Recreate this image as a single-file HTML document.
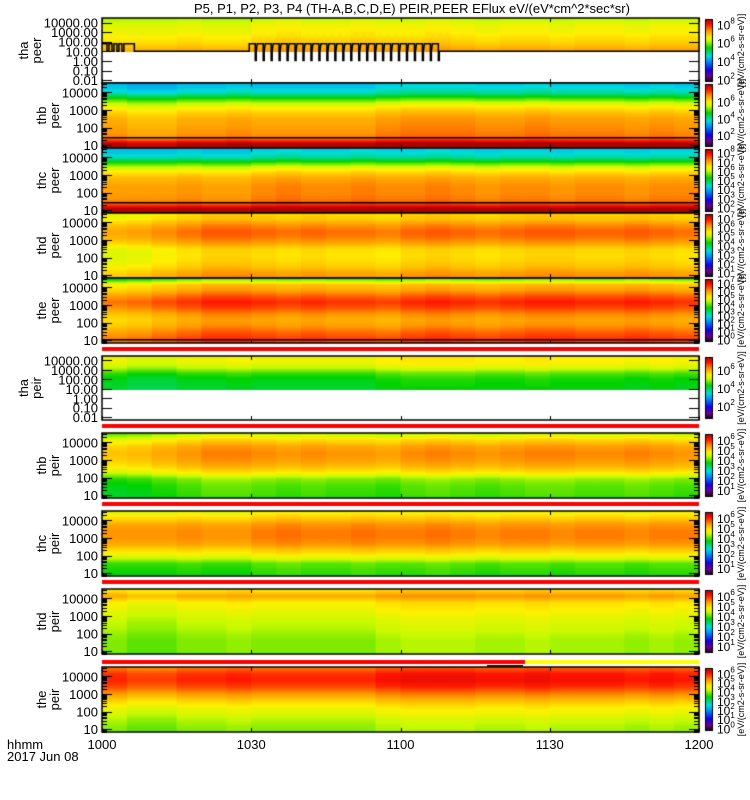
<!DOCTYPE html>
<html><head><meta charset="utf-8">
<style>
html,body{margin:0;padding:0;background:#fff;}
#wrap{position:relative;width:750px;height:800px;overflow:hidden;}
canvas,svg{position:absolute;left:0;top:0;}
text{font-family:"Liberation Sans",sans-serif;fill:#000;}
</style></head>
<body>
<div id="wrap">
<canvas id="cv" width="750" height="800"></canvas>
<svg id="sv" width="750" height="800"></svg>
</div>
<script>
// time axis data
const timeTicks = [1000, 1030, 1100, 1130, 1200];
const timeTickLabels = ["1000", "1030", "1100", "1130", "1200"];
// time-segment modulation (24 segments from 1000 to 1200)
const timeModA = [0,0,0,0.01,0,0,0.02,0.03,0.02,0.02,0.03,0.02,0.02,0.03,0.02,0.01,0.02,0.02,0.01,0.02,0.02,0.01,0.02,0.02];
const timeModB = [0,-0.02,-0.02,0,0,0.01,0,0,0,0,0,0.02,0.03,0.03,0.03,0.02,0.02,0.03,0.02,0.02,0.02,0.01,0.02,0.01];
const timeModC = [-0.03,-0.02,0,0.02,0.04,0.04,0.03,0.02,0.03,0.02,0.02,0.01,0.03,0.04,0.03,0.02,0.03,0.04,0.04,0.03,0.03,0.04,0.03,0.02];
// energy band colour levels per panel (top=high energy -> bottom), 0..1 colour index
const bandsP1 = [0.64,0.67,0.69,0.70,0.72,0.74,0.77,0.80];
const bandsP2 = [0.38,0.40,0.45,0.56,0.66,0.72,0.76,0.79,0.80,0.81,0.82,0.84,0.99,1.0];
const bandsP3 = [0.38,0.40,0.46,0.58,0.68,0.74,0.78,0.80,0.81,0.81,0.82,0.85,0.99,1.0];
const bandsP4 = [0.72,0.74,0.80,0.83,0.82,0.78,0.72,0.71,0.72,0.74,0.78,0.80];
const bandsP5 = [0.55,0.74,0.78,0.84,0.88,0.85,0.80,0.77,0.79,0.83,0.86,0.87];
const bandsP6 = [0.70,0.70,0.66,0.58,0.54,0.53,0.52];
const bandsP7 = [0.62,0.72,0.78,0.80,0.79,0.76,0.70,0.60,0.57,0.56,0.55];
const bandsP8 = [0.68,0.74,0.80,0.82,0.82,0.80,0.74,0.68,0.58,0.56,0.55];
const bandsP9 = [0.72,0.80,0.72,0.70,0.68,0.66,0.65,0.63,0.62,0.62,0.62];
const bandsP10 = [0.84,0.90,0.91,0.88,0.82,0.76,0.71,0.68,0.65,0.63,0.62];
// black trace (P1) pulse times, minutes after 1000
const pulseTimes = [29.6,31.2,32.8,34.4,36,37.6,39.2,40.8,42.4,44,45.6,47.2,48.8,50.4,52,53.6,55.2,56.8,58.4,60,61.6,63.2,64.8,66.4];

const panels = [
 {name:'tha',kind:'peer',top:18,bot:83,log:true,lmin:-2.3,lmax:4.47,dmin:0.95,bands:bandsP1,mod:timeModA,cb:[8,6,4,2],cbmin:1.7,cbmax:8.6},
 {name:'thb',kind:'peer',top:83,bot:148,lmin:0.83,lmax:4.54,bands:bandsP2,mod:timeModB,cb:[6,4,2],cbmin:0.6,cbmax:8.1,line:0.83+10/17.5},
 {name:'thc',kind:'peer',top:148,bot:213,lmin:0.83,lmax:4.54,bands:bandsP3,mod:timeModA,cb:[8,7,6,5,4,3,2],cbmin:1.5,cbmax:8.4,line:0.83+10/17.5},
 {name:'thd',kind:'peer',top:213,bot:278,lmin:0.83,lmax:4.54,bands:bandsP4,mod:timeModC,cb:[7,6,5,4,3,2,1],cbmin:0.5,cbmax:7.5},
 {name:'the',kind:'peer',top:278,bot:343,lmin:0.83,lmax:4.54,bands:bandsP5,mod:timeModC,cb:[7,6,5,4,3,2,1,0],cbmin:-0.3,cbmax:7.5,line:0.83+3/17.5},
 {name:'tha',kind:'peir',top:356,bot:420,log:true,lmin:-2.3,lmax:4.47,dmin:0.95,bands:bandsP6,mod:timeModB,cb:[6,4,2],cbmin:0.6,cbmax:7.4},
 {name:'thb',kind:'peir',top:433,bot:498,lmin:0.83,lmax:4.54,bands:bandsP7,mod:timeModC,cb:[6,5,4,3,2,1],cbmin:0.3,cbmax:6.6},
 {name:'thc',kind:'peir',top:511,bot:576,lmin:0.83,lmax:4.54,bands:bandsP8,mod:timeModA,cb:[6,5,4,3,2,1],cbmin:0.3,cbmax:6.6},
 {name:'thd',kind:'peir',top:589,bot:654,lmin:0.83,lmax:4.54,bands:bandsP9,mod:timeModB,cb:[6,5,4,3,2,1],cbmin:0.3,cbmax:6.6},
 {name:'the',kind:'peir',top:667,bot:732,lmin:0.83,lmax:4.54,bands:bandsP10,mod:timeModB,cb:[6,5,4,3,2,1,0],cbmin:-0.3,cbmax:6.6}
];
const X0=102, X1=699;
function xOf(t){
  const m = Math.floor(t/100)*60 + t%100 - 600;
  return X0 + m/120*(X1-X0);
}
function xMin(m){return X0 + m/120*(X1-X0);}
const stops=[[0,0,0,0],[0.1,110,0,140],[0.2,20,0,230],[0.33,0,140,255],[0.42,0,220,220],[0.55,0,210,0],[0.66,200,250,0],[0.72,255,240,0],[0.82,255,150,0],[0.92,255,20,0],[1.0,175,0,0]];
function col(v){
  v=Math.max(0,Math.min(1,v));
  for(let i=1;i<stops.length;i++){
    if(v<=stops[i][0]){const a=stops[i-1],b=stops[i],f=(v-a[0])/(b[0]-a[0]);
      return 'rgb('+Math.round(a[1]+f*(b[1]-a[1]))+','+Math.round(a[2]+f*(b[2]-a[2]))+','+Math.round(a[3]+f*(b[3]-a[3]))+')';}
  }
  return 'rgb(175,0,0)';
}
const cv=document.getElementById('cv'), g=cv.getContext('2d');
const sv=document.getElementById('sv'), NS='http://www.w3.org/2000/svg';
function txt(x,y,s,o){const t=document.createElementNS(NS,'text');t.setAttribute('x',x);t.setAttribute('y',y);
 t.setAttribute('font-size',(o&&o.fs)||13);if(o&&o.anchor)t.setAttribute('text-anchor',o.anchor);
 if(o&&o.rot)t.setAttribute('transform','rotate('+o.rot+' '+x+' '+y+')');t.textContent=s;sv.appendChild(t);return t;}
g.fillStyle='#fff';g.fillRect(0,0,750,800);

panels.forEach((p,pi)=>{
  const H=p.bot-p.top;
  const yOf=l=>p.bot-(l-p.lmin)/(p.lmax-p.lmin)*H;
  const dataBot = p.dmin!==undefined ? yOf(p.dmin) : p.bot;
  const nT=p.mod.length, colW=(X1-X0)/nT;
  for(let ci=0;ci<nT;ci++){
    for(let y=p.top;y<dataBot;y++){
      const f=(y-p.top)/(dataBot-p.top)*(p.bands.length-1);
      const i=Math.floor(f), fr=f-i;
      const b=p.bands[i]*(1-fr)+(p.bands[Math.min(i+1,p.bands.length-1)])*fr;
      g.fillStyle=col(b+p.mod[ci]);
      g.fillRect(X0+ci*colW,y,colW+1,1);
    }
  }
  if(p.kind==='peir'){
    g.fillStyle='#ff0000';
    if(pi===9){g.fillRect(X0,p.top-7,525-X0,4);g.fillStyle='#ffff00';g.fillRect(525,p.top-7,X1-525,4);
      g.fillStyle='#000';g.fillRect(487,p.top-2,36,1.5);}
    else g.fillRect(X0,p.top-9,X1-X0,4);
  }
  if(p.line!==undefined){g.fillStyle='#000';g.fillRect(X0,yOf(p.line)-1,X1-X0,1.5);}
  g.strokeStyle='#000';g.lineWidth=1.5;g.strokeRect(X0,p.top,X1-X0,H);
  g.lineWidth=1;g.beginPath();
  const d0=Math.ceil(p.lmin), d1=Math.floor(p.lmax);
  for(let d=d0-1;d<=d1;d++){
    for(let k=1;k<10;k++){const l=d+Math.log10(k); if(l<p.lmin||l>p.lmax)continue;
      const y=Math.round(yOf(l))+0.5, len=k===1?10:(p.log?0:5); if(!len)continue;
      g.moveTo(X0,y);g.lineTo(X0+len,y);g.moveTo(X1,y);g.lineTo(X1-len,y);}
  }
  timeTicks.forEach(t=>{const x=Math.round(xOf(t))+0.5;g.moveTo(x,p.bot);g.lineTo(x,p.bot-4);g.moveTo(x,p.top);g.lineTo(x,p.top+4);});
  g.stroke();
  for(let d=d0;d<=d1;d++){
    if(p.dmin===undefined && d<1)continue;
    const s=p.log?(Math.pow(10,d)).toFixed(2):String(Math.pow(10,d));
    const t=txt(98,yOf(d)+5,s,{anchor:'end',fs:13});
    
    
  }
  const lx = p.log ? 28 : 46;
  const lt=txt(lx,(p.top+p.bot)/2,p.name,{anchor:'middle',rot:-90,fs:13});
  
  
  const lk=txt(lx+13,(p.top+p.bot)/2,p.kind,{anchor:'middle',rot:-90,fs:13});
  
  
  const cbT=p.top+1, cbB=p.bot-1;
  for(let y=cbT;y<cbB;y++){g.fillStyle=col(1-(y-cbT)/(cbB-cbT));g.fillRect(705,y,8,1);}
  g.strokeStyle='#000';g.lineWidth=1;g.strokeRect(705.5,cbT+0.5,7,cbB-cbT-1);
  p.cb.forEach(e=>{
    const y=cbB-(e-p.cbmin)/(p.cbmax-p.cbmin)*(cbB-cbT);
    const t=txt(717,y+5,'10',{fs:12});
    const s=document.createElementNS(NS,'tspan');s.setAttribute('dy','-6');s.setAttribute('font-size','8');s.textContent=String(e);t.appendChild(s);
    
    
  });
  const ut=txt(744,(p.top+p.bot)/2,'[eV/(cm2-s-sr-eV)]',{anchor:'middle',rot:-90,fs:9});
  
  
});
// P1 black trace with pulses
(function(){
  const p=panels[0];const H=p.bot-p.top;const yOf=l=>p.bot-(l-p.lmin)/(p.lmax-p.lmin)*H;
  g.strokeStyle='#000';g.lineWidth=1.5;g.beginPath();
  const yb=yOf(1.0), yhi=yOf(1.8), ylo=yOf(0.05);
  g.moveTo(X0,yhi);
  [1,2,3,4].forEach(m=>{g.lineTo(xMin(m),yhi);g.lineTo(xMin(m),yb);g.lineTo(xMin(m)+2,yb);g.lineTo(xMin(m)+2,yhi);});
  g.lineTo(xMin(6.5),yhi);g.lineTo(xMin(6.5),yb);g.lineTo(xMin(pulseTimes[0]),yb);
  pulseTimes.forEach(m=>{const x=xMin(m);g.lineTo(x,yhi);g.lineTo(x+6,yhi);g.lineTo(x+6,ylo);g.lineTo(x+7,ylo);g.lineTo(x+7,yb);});
  g.lineTo(X1,yb);g.stroke();
})();
const tt=txt(412,13,'P5, P1, P2, P3, P4 (TH-A,B,C,D,E) PEIR,PEER EFlux eV/(eV*cm^2*sec*sr)',{anchor:'middle',fs:13});


timeTicks.forEach((t,i)=>{const e=txt(xOf(t),749,timeTickLabels[i],{anchor:'middle',fs:13});
  
  });
const h1=txt(7,749,'hhmm',{fs:13});


const h2=txt(7,761,'2017 Jun 08',{fs:13});


</script>
</body></html>
